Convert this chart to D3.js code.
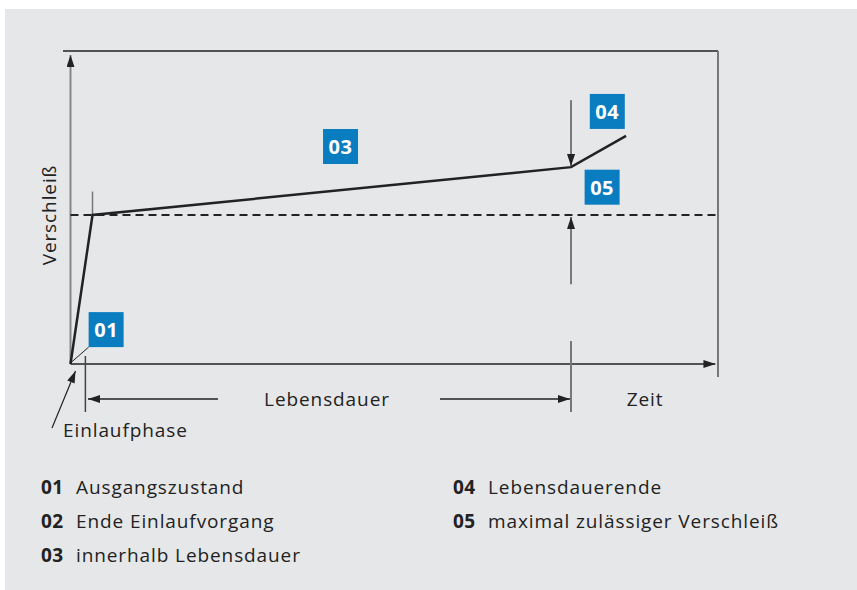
<!DOCTYPE html>
<html>
<head>
<meta charset="utf-8">
<script src="https://cdn.jsdelivr.net/npm/d3@7"></script>
<style>
  body { margin: 0; background: #fff; }
  svg text { font-family: "Open Sans", "Noto Sans", sans-serif; fill: #222; font-size: 19px; letter-spacing: 0.9px; }
  .box text { fill: #fff; font-weight: bold; font-size: 20px; letter-spacing: 0.5px; }
  .code { font-weight: bold; letter-spacing: 0.3px; }
</style>
</head>
<body>
<div id="chart"></div>
<script>
// wear curve (time in % of axis, wear in % of axis)
var wearTime = [0, 3.4, 77.3, 85.8];
var wearValue = [0, 47.6, 62.9, 72.9];
var wearLimit = 47.6;

// numbered markers
var markerCodes = ["01", "03", "04", "05"];
var markerTime = [2.8, 39.0, 80.2, 79.4];
var markerValue = [5.4, 63.9, 75.1, 50.9];

// legend
var legendCodes = ["01", "02", "03", "04", "05"];
var legendLabels = ["Ausgangszustand", "Ende Einlaufvorgang", "innerhalb Lebensdauer",
                    "Lebensdauerende", "maximal zulässiger Verschleiß"];

var width = 857, height = 590;
var svg = d3.select("#chart").append("svg")
    .attr("width", width)
    .attr("height", height);

svg.append("rect")
    .attr("x", 5).attr("y", 9)
    .attr("width", width - 5).attr("height", height - 9)
    .style("fill", "#e6e7e9");

var x = d3.scaleLinear().domain([0, 100]).range([70.5, 718]);
var y = d3.scaleLinear().domain([0, 100]).range([364, 51]);

//arrow heads
var defs = svg.append("defs");
defs.append("marker")
    .attr("id", "arrow")
    .attr("viewBox", "0 0 12 8")
    .attr("refX", 12).attr("refY", 4)
    .attr("markerWidth", 12).attr("markerHeight", 8)
    .attr("markerUnits", "userSpaceOnUse")
    .attr("orient", "auto")
    .append("path")
    .attr("d", "M0,0 L12,4 L0,8 Z")
    .style("fill", "#222");

function line(x1, y1, x2, y2, color, w, arrow) {
    var l = svg.append("line")
        .attr("x1", x1).attr("y1", y1)
        .attr("x2", x2).attr("y2", y2)
        .style("stroke", color)
        .style("stroke-width", w);
    if (arrow) l.attr("marker-end", "url(#arrow)");
    return l;
}

// frame: top and right
line(63, y(100), x(100), y(100), "#222", 1.5);
line(x(100), y(100), x(100), 377, "#777", 2);

// axes
line(x(0), y(0), x(0), y(98.7), "#888", 2, true);
line(x(0), y(0), x(99.6), y(0), "#222", 1.5, true);

// max wear limit
line(x(0), y(wearLimit), x(100), y(wearLimit), "#222", 2)
    .style("stroke-dasharray", "8,5");

// end of run-in tick
line(x(wearTime[1]), y(wearLimit + 7.5), x(wearTime[1]), y(wearLimit), "#777", 1.5);

// wear curve
var pts = wearTime.map(function(t, i) { return [x(t), y(wearValue[i])]; });
svg.append("path")
    .attr("d", d3.line()(pts))
    .style("fill", "none")
    .style("stroke", "#222")
    .style("stroke-width", 2.5)
    .style("stroke-linejoin", "miter");

// arrows at end of life
line(x(wearTime[2]), y(84.3), x(wearTime[2]), y(wearValue[2]) - 1, "#555", 1.5, true);
line(x(wearTime[2]), y(25.5), x(wearTime[2]), y(wearLimit) + 2, "#555", 1.5, true);

// connector to marker 01
line(x(0), y(0) - 1, x(markerTime[0]), y(markerValue[0]), "#222", 1);

// lifetime bracket
var bracketY = 399;
line(x(2.3), 356, x(2.3), 412, "#444", 1.5);
line(x(wearTime[2]), 341, x(wearTime[2]), 412, "#777", 2);
line(218, bracketY, x(2.7), bracketY, "#222", 1.5, true);
line(440, bracketY, x(wearTime[2]) - 1, bracketY, "#222", 1.5, true);

svg.append("text").attr("x", 327).attr("y", 406)
    .attr("text-anchor", "middle").text("Lebensdauer");
svg.append("text").attr("x", 645).attr("y", 406)
    .attr("text-anchor", "middle").text("Zeit");

// Einlaufphase
line(52, 428, 75.5, 371, "#222", 1.2, true);
svg.append("text").attr("x", 63).attr("y", 437).text("Einlaufphase");

// y label
svg.append("text")
    .attr("transform", "translate(56," + y(wearLimit) + ") rotate(-90)")
    .attr("text-anchor", "middle")
    .text("Verschleiß");

// marker boxes (bottom-left anchored)
var box = svg.selectAll("g.box")
    .data(markerCodes)
    .enter()
    .append("g")
    .attr("class", "box")
    .attr("transform", function(d, i) {
        return "translate(" + x(markerTime[i]) + "," + (y(markerValue[i]) - 35) + ")";
    });
box.append("rect")
    .attr("width", 35).attr("height", 35)
    .style("fill", "#0a7dc1");
box.append("text")
    .attr("x", 17.5).attr("y", 25)
    .attr("text-anchor", "middle")
    .text(function(d) { return d; });

// legend
var legend = svg.selectAll("g.legend")
    .data(legendCodes)
    .enter()
    .append("g")
    .attr("class", "legend")
    .attr("transform", function(d, i) {
        var col = i < 3 ? 0 : 1;
        var row = i < 3 ? i : i - 3;
        return "translate(" + (col == 0 ? 41 : 453) + "," + (494 + row * 34) + ")";
    });
legend.append("text")
    .attr("class", "code")
    .text(function(d) { return d; });
legend.append("text")
    .attr("x", 35)
    .text(function(d, i) { return legendLabels[i]; });
</script>
</body>
</html>
